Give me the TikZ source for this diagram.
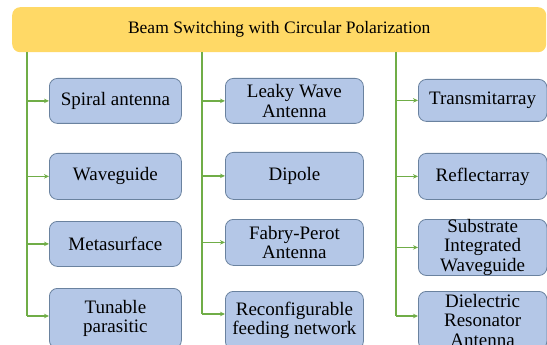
\documentclass[tikz,border=0pt]{standalone}
\usepackage{fontspec}
\setmainfont{Liberation Serif}
\newfontfamily\timesfont{Liberation Serif}
\usetikzlibrary{arrows.meta}
\definecolor{titlefill}{HTML}{FFD966}
\definecolor{boxfill}{HTML}{B4C7E7}
\definecolor{boxline}{HTML}{6A829F}
\definecolor{linkgreen}{HTML}{70AD47}
\begin{document}
\begin{tikzpicture}[x=1pt,y=-1pt,
  headbox/.style={fill=titlefill, rounded corners=8pt, inner sep=0pt,
    anchor=north west, font=\timesfont\fontsize{17.5}{19}\selectfont},
  catbox/.style={draw=boxline, fill=boxfill, rounded corners=8pt, line width=0.8pt,
    align=center, inner sep=0pt, anchor=north west,
    font=\timesfont\fontsize{19}{19.4}\selectfont},
  trunk/.style={draw=linkgreen, line width=1.3pt},
  link/.style={draw=linkgreen, line width=1.3pt, -{Stealth[length=5pt,width=4.5pt]}}]
\useasboundingbox (0,0) rectangle (547,345);
\clip (0,0) rectangle (547,345);

% heading
\node[headbox, minimum width=534pt, minimum height=45pt] (title) at (12,7)
  {Beam Switching with Circular Polarization};

% first column
\node[catbox, minimum width=132pt, minimum height=45pt] (spiral) at (49,78) {Spiral antenna};
\node[catbox, minimum width=132pt, minimum height=46pt] (wg) at (49,153) {Waveguide};
\node[catbox, minimum width=132pt, minimum height=45pt] (meta) at (49,221) {Metasurface};
\node[catbox, minimum width=132pt, minimum height=60pt] (tun) at (49,288) {Tunable\\parasitic};

% second column
\node[catbox, minimum width=138pt, minimum height=45pt] (leaky) at (225,78) {Leaky Wave\\Antenna};
\node[catbox, minimum width=138pt, minimum height=47pt] (dip) at (225,152) {Dipole};
\node[catbox, minimum width=138pt, minimum height=46pt] (fp) at (225,219) {Fabry-Perot\\Antenna};
\node[catbox, minimum width=138pt, minimum height=58pt] (rfn) at (225,291) {Reconfigurable\\feeding network};

% third column
\node[catbox, minimum width=128.5pt, minimum height=42pt] (ta) at (418,79) {Transmitarray};
\node[catbox, minimum width=128.5pt, minimum height=46pt] (ra) at (418,153) {Reflectarray};
\node[catbox, minimum width=128.5pt, minimum height=56pt] (siw) at (418,219) {Substrate\\Integrated\\Waveguide};
\node[catbox, minimum width=128.5pt, minimum height=58pt] (dra) at (418,291) {Dielectric\\Resonator\\Antenna};

% trunks leaving the heading
\coordinate (ta1) at (27,52);
\coordinate (ta2) at (202,52);
\coordinate (ta3) at (396,52);
\coordinate (tb1) at (27,316);
\coordinate (tb2) at (202,314);
\coordinate (tb3) at (396,316);
\draw[trunk] (ta1) -- (tb1);
\draw[trunk] (ta2) -- (tb2);
\draw[trunk] (ta3) -- (tb3);

% branches
\foreach \n in {spiral,wg,meta} \draw[link] (ta1 |- \n.west) -- (\n.west);
\draw[link] (tb1) -- (tb1 -| tun.west);
\foreach \n in {leaky,dip,fp} \draw[link] (ta2 |- \n.west) -- (\n.west);
\draw[link] (tb2) -- (tb2 -| rfn.west);
\foreach \n in {ta,ra,siw} \draw[link] (ta3 |- \n.west) -- (\n.west);
\draw[link] (tb3) -- (tb3 -| dra.west);
\end{tikzpicture}
\end{document}
